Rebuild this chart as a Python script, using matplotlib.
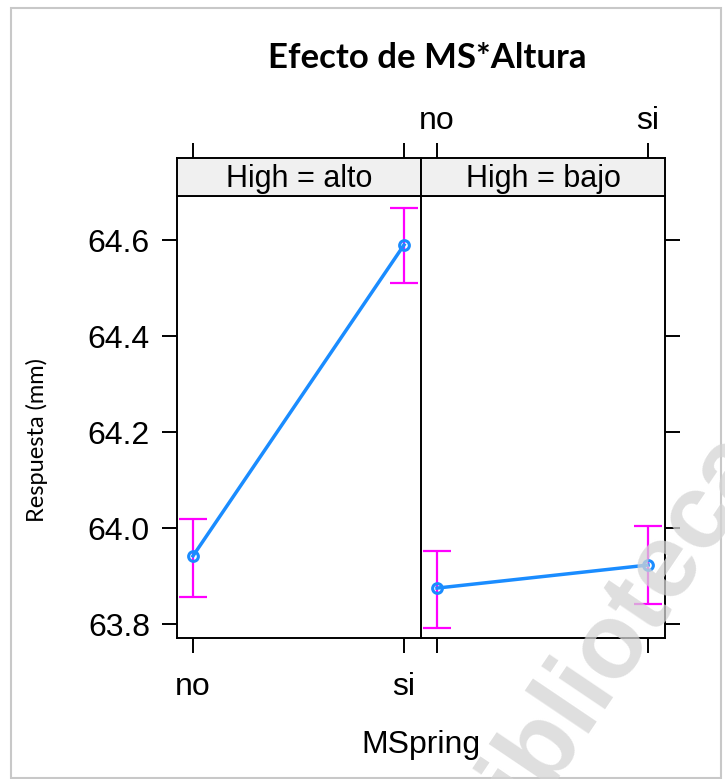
import matplotlib.pyplot as plt
from matplotlib.patches import Rectangle
import numpy as np

# Data (effects plot, lattice style)
levels = ["no", "si"]
panels = ["High = alto", "High = bajo"]
fit_alto = [63.942, 64.590]
lower_alto = [63.857, 64.510]
upper_alto = [64.020, 64.666]
fit_bajo = [63.875, 63.923]
lower_bajo = [63.792, 63.842]
upper_bajo = [63.953, 64.004]
yticks = [63.8, 64.0, 64.2, 64.4, 64.6]

W, H = 725, 779
fig = plt.figure(figsize=(W / 100, H / 100), dpi=100)
plt.rcParams['font.family'] = ['Liberation Sans', 'DejaVu Sans']

# outer light gray frame
fig.patches.append(Rectangle((11 / W, 1 - 778 / H), 710 / W, 770 / H,
                             transform=fig.transFigure, fill=False,
                             edgecolor='#c8c8c8', linewidth=1.5))

def fx(px):
	return px / W

def fy(py):
	return 1 - py / H

xlim = (-16 / 211, 1 + 17 / 211)
ylim = (63.771, 64.692)
line_c = '#1a8cff'
err_c = '#ff00ff'
tick_len = 10.5
fs = 23

data = [(fit_alto, lower_alto, upper_alto), (fit_bajo, lower_bajo, upper_bajo)]
lefts = [177, 421]
for i, (fit, lo, up) in enumerate(data):
	x0 = lefts[i]
	ax = fig.add_axes([fx(x0), fy(638), fx(244), (638 - 196) / H])
	sx = fig.add_axes([fx(x0), fy(196), fx(244), (196 - 158) / H])
	xs = np.arange(len(levels))
	fit = np.array(fit)
	ax.errorbar(xs, fit, yerr=[fit - np.array(lo), np.array(up) - fit], fmt='none',
				ecolor=err_c, elinewidth=1.6, capsize=10, capthick=1.6, zorder=2)
	ax.plot(xs, fit, color=line_c, lw=2.5, marker='o', ms=7, mfc='none',
			mec=line_c, mew=2.2, zorder=3)
	ax.set_xlim(xlim)
	ax.set_ylim(ylim)
	ax.set_xticks(xs)
	ax.set_yticks(yticks)
	for s in ax.spines.values():
		s.set_linewidth(1.4)
	ax.tick_params(direction='out', length=tick_len, width=1.4, labelsize=fs)
	if i == 0:
		ax.set_xticklabels(levels)
		ax.set_yticklabels(['%.1f' % v for v in yticks])
		ax.tick_params(axis='x', pad=14)
		ax.tick_params(axis='y', pad=9)
		ax.spines['right'].set_visible(False)
	else:
		ax.tick_params(axis='x', labelbottom=False)
		ax.tick_params(axis='y', left=False, labelleft=False, right=True)

	# strip
	sx.set_facecolor('#f0f0f0')
	sx.set_xlim(xlim)
	sx.set_ylim(0, 1)
	sx.set_yticks([])
	sx.set_xticks(xs)
	for s in sx.spines.values():
		s.set_linewidth(1.4)
	sx.tick_params(axis='x', bottom=False, labelbottom=False, top=True,
				   direction='out', length=tick_len, width=1.4, labelsize=fs, pad=5)
	if i == 1:
		sx.set_xticklabels(levels)
		sx.tick_params(axis='x', labeltop=True)
	else:
		sx.tick_params(axis='x', labeltop=False)
	sx.text(0.5, 0.45, panels[i], transform=sx.transAxes, ha='center', va='center',
			fontsize=22)

fig.text(fx(427), fy(58), 'Efecto de MS*Altura', ha='center', va='center',
		 fontsize=25, fontweight='bold', family=['Lato', 'DejaVu Sans'])
fig.text(fx(421), fy(745), 'MSpring', ha='center', va='center', fontsize=fs)
fig.text(fx(37), fy(440), 'Respuesta (mm)', ha='center', va='center', rotation=90,
		 fontsize=17, family=['Lato', 'DejaVu Sans'])

# watermark
fig.text(fx(605), fy(650), 'Biblioteca', ha='center', va='center', rotation=56,
		 fontsize=76, fontweight='bold', color='#d4d4d4', alpha=0.75, zorder=10)

fig.savefig('out.png', dpi=100)
